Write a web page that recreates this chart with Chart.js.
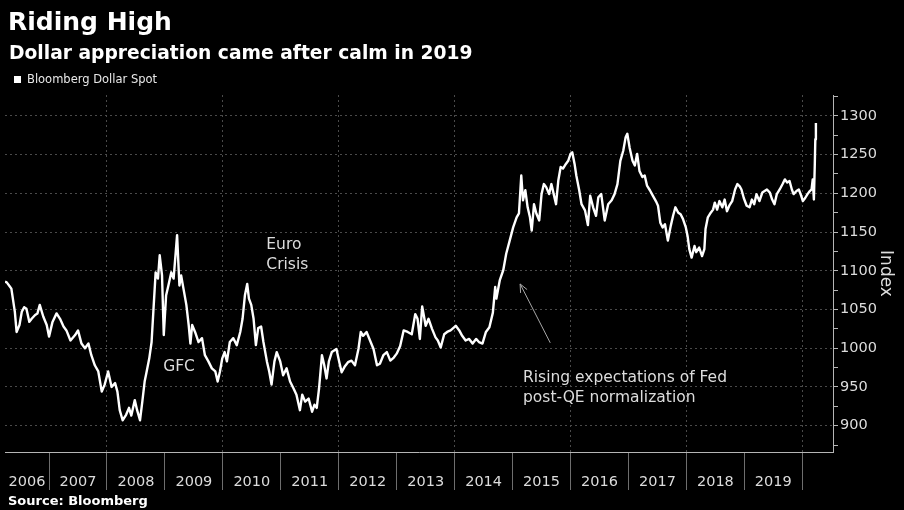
<!DOCTYPE html>
<html>
<head>
<meta charset="utf-8">
<script src="https://cdn.jsdelivr.net/npm/chart.js@4/dist/chart.umd.min.js"></script>
<style>
html,body{margin:0;padding:0;background:#000;}
#wrap{position:relative;width:904px;height:510px;background:#000;overflow:hidden;}
#c{position:absolute;left:0;top:0;}
.t{position:absolute;white-space:nowrap;color:#fff;font-family:"DejaVu Sans";}
#title{left:8px;top:9px;font-weight:bold;font-size:25px;line-height:25px;}
#sub{left:9px;top:43.5px;font-weight:bold;font-size:18.7px;line-height:18.7px;}
#legsq{position:absolute;left:14px;top:76px;width:7px;height:7px;background:#fff;}
#leg{left:27px;top:74.3px;font-size:11.5px;line-height:11.5px;color:#e8e8e8;}
#src{left:8px;top:494px;font-weight:bold;font-size:13px;line-height:13px;}
</style>
</head>
<body>
<div id="wrap">
<canvas id="c" width="904" height="510"></canvas>
<div class="t" id="title">Riding High</div>
<div class="t" id="sub">Dollar appreciation came after calm in 2019</div>
<div id="legsq"></div>
<div class="t" id="leg">Bloomberg Dollar Spot</div>
<div class="t" id="src">Source: Bloomberg</div>
</div>
<script>
// ---- data (decimal-year dates, index values) ----
const seriesName = 'Bloomberg Dollar Spot';
const yearLabels = ['2006','2007','2008','2009','2010','2011','2012','2013','2014','2015','2016','2017','2018','2019'];

const dates = [
 2006.24,2006.27,2006.32,2006.35,2006.41,2006.44,2006.49,2006.53,2006.57,2006.61,2006.66,2006.70,2006.76,2006.80,2006.84,2006.90,2006.96,
 2007.00,2007.06,2007.13,2007.19,2007.25,2007.30,2007.37,2007.45,2007.50,2007.56,2007.62,2007.68,2007.73,2007.79,2007.85,2007.91,2007.96,
 2008.02,2008.08,2008.14,2008.18,2008.22,2008.27,2008.33,2008.38,2008.42,2008.48,2008.52,2008.57,2008.61,2008.65,2008.68,2008.73,2008.77,2008.80,2008.84,2008.88,2008.91,2008.95,2008.98,
 2009.02,2009.06,2009.11,2009.15,2009.21,2009.25,2009.28,2009.32,2009.37,2009.41,2009.44,2009.47,2009.52,2009.58,2009.64,2009.69,2009.75,2009.81,2009.87,2009.91,2009.95,2009.99,
 2010.03,2010.07,2010.12,2010.18,2010.24,2010.30,2010.34,2010.38,2010.42,2010.45,2010.49,2010.53,2010.57,2010.61,2010.66,2010.70,2010.76,2010.80,2010.84,2010.89,2010.93,2010.99,
 2011.04,2011.10,2011.16,2011.22,2011.27,2011.33,2011.37,2011.42,2011.48,2011.54,2011.58,2011.62,2011.66,2011.71,2011.75,2011.79,2011.83,2011.88,2011.96,
 2012.01,2012.05,2012.10,2012.16,2012.22,2012.28,2012.34,2012.38,2012.42,2012.48,2012.54,2012.60,2012.66,2012.71,2012.77,2012.83,2012.89,2012.95,
 2013.00,2013.06,2013.12,2013.19,2013.26,2013.32,2013.36,2013.40,2013.44,2013.50,2013.55,2013.61,2013.67,2013.71,2013.76,2013.82,2013.87,2013.93,
 2014.02,2014.08,2014.13,2014.19,2014.25,2014.31,2014.37,2014.42,2014.48,2014.54,2014.60,2014.66,2014.70,2014.72,2014.78,2014.84,2014.89,2014.95,
 2015.01,2015.07,2015.11,2015.15,2015.18,2015.22,2015.26,2015.30,2015.33,2015.37,2015.41,2015.46,2015.50,2015.54,2015.58,2015.63,2015.67,2015.71,2015.75,2015.79,2015.83,2015.87,2015.92,2015.96,
 2016.00,2016.03,2016.07,2016.10,2016.15,2016.19,2016.25,2016.30,2016.34,2016.39,2016.44,2016.48,2016.53,2016.59,2016.65,2016.71,2016.76,2016.81,2016.86,2016.91,2016.95,2016.98,
 2017.02,2017.07,2017.11,2017.15,2017.19,2017.24,2017.28,2017.32,2017.37,2017.42,2017.48,2017.51,2017.55,2017.59,2017.63,2017.68,2017.73,2017.77,2017.81,2017.86,2017.90,2017.94,2017.99,
 2018.02,2018.05,2018.09,2018.14,2018.17,2018.22,2018.27,2018.31,2018.33,2018.37,2018.42,2018.46,2018.49,2018.53,2018.57,2018.62,2018.66,2018.70,2018.74,2018.79,2018.84,2018.88,2018.92,2018.95,2018.99,
 2019.04,2019.09,2019.13,2019.17,2019.21,2019.26,2019.31,2019.35,2019.39,2019.44,2019.48,2019.52,2019.56,2019.61,2019.66,2019.70,2019.74,2019.78,2019.82,2019.85,2019.90,2019.94,2019.98,
 2020.01,2020.05,2020.09,2020.13,2020.16,2020.18,2020.20,2020.215,2020.225,2020.235
];

const index = [
 1086,1085,1080,1077,1047,1021,1030,1047,1053,1051,1034,1038,1043,1045,1056,1041,1030,
 1015,1034,1045,1038,1028,1023,1010,1017,1023,1006,1000,1006,991,978,970,944,953,
 970,950,955,944,920,907,914,923,913,933,920,907,931,957,968,987,1008,1047,1098,1090,1120,1094,1017,
 1068,1081,1098,1090,1146,1081,1094,1077,1056,1030,1006,1030,1021,1008,1013,991,983,974,970,957,970,987,
 995,983,1008,1013,1004,1021,1038,1068,1083,1064,1056,1038,1004,1026,1028,1008,983,970,953,983,995,983,
 965,974,957,948,940,920,940,931,935,918,927,923,948,991,978,961,983,995,999,
 982,969,976,982,984,978,999,1021,1016,1021,1010,999,978,980,991,995,984,988,
 993,1003,1023,1021,1018,1044,1038,1012,1054,1029,1038,1025,1014,1010,1001,1018,1021,1023,
 1029,1023,1016,1010,1012,1006,1012,1008,1006,1021,1027,1046,1079,1064,1088,1101,1122,1139,
 1156,1169,1174,1223,1191,1204,1182,1169,1152,1186,1174,1165,1199,1212,1208,1199,1212,1199,1186,1217,1234,1232,1238,1242,
 1251,1253,1238,1223,1204,1186,1178,1159,1197,1182,1171,1195,1199,1165,1186,1191,1199,1212,1242,1255,1272,1277,
 1259,1242,1236,1251,1229,1221,1223,1210,1204,1197,1189,1184,1162,1156,1160,1139,1158,1171,1182,1175,1173,1167,1156,
 1145,1128,1117,1132,1124,1130,1119,1128,1154,1169,1175,1179,1188,1179,1190,1182,1192,1177,1184,1190,1205,1212,1209,1205,1194,
 1184,1182,1192,1186,1199,1190,1201,1203,1205,1201,1192,1186,1199,1205,1212,1218,1214,1216,1205,1199,1203,1205,1197,
 1190,1194,1199,1203,1205,1218,1192,1235,1270,1291
];

// annotation text anchored in data units (left edge, first-line centre)
const notes = [
  {lines:['Euro','Crisis'], x:2010.75, y:1133},
  {lines:['GFC'], x:2008.97, y:976},
  {lines:['Rising expectations of Fed','post-QE normalization'], x:2015.18, y:962}
];
const arrow = {fromX:2015.65, fromY:1007, toX:2015.13, toY:1083};

const X_MIN = 2006.24, X_MAX = 2020.53, Y_MIN = 866, Y_MAX = 1327;

// ---- chart ----
const FONT = 'DejaVu Sans';
const GRID = '#4a4a4a';
const AXIS = '#b5b5b5';
const TXT = '#dcdcdc';
const CLEAR = 'rgba(0,0,0,0)';

const n = Math.min(dates.length, index.length);
const points = [];
for (let i = 0; i < n; i++) points.push({x: dates[i], y: index[i]});

const notesPlugin = {
  id: 'notes',
  afterDatasetsDraw(chart) {
    const {ctx} = chart;
    const xs = chart.scales.x, ys = chart.scales.y;
    ctx.save();
    ctx.fillStyle = TXT;
    ctx.font = '15.5px "' + FONT + '"';
    ctx.textBaseline = 'middle';
    ctx.textAlign = 'left';
    notes.forEach(nt => {
      const px = xs.getPixelForValue(nt.x), py = ys.getPixelForValue(nt.y);
      nt.lines.forEach((t, i) => ctx.fillText(t, px, py + i * 20));
    });
    const x1 = xs.getPixelForValue(arrow.fromX), y1 = ys.getPixelForValue(arrow.fromY);
    const x2 = xs.getPixelForValue(arrow.toX), y2 = ys.getPixelForValue(arrow.toY);
    const ang = Math.atan2(y2 - y1, x2 - x1), h = 9;
    ctx.strokeStyle = '#a8a8a8';
    ctx.lineWidth = 1;
    ctx.beginPath();
    ctx.moveTo(x1, y1); ctx.lineTo(x2, y2);
    ctx.moveTo(x2, y2); ctx.lineTo(x2 - h * Math.cos(ang - 0.42), y2 - h * Math.sin(ang - 0.42));
    ctx.moveTo(x2, y2); ctx.lineTo(x2 - h * Math.cos(ang + 0.42), y2 - h * Math.sin(ang + 0.42));
    ctx.stroke();
    ctx.restore();
  }
};

new Chart(document.getElementById('c'), {
  type: 'line',
  data: {
    datasets: [{
      label: seriesName,
      data: points,
      borderColor: '#ffffff',
      borderWidth: 2.4,
      pointRadius: 0,
      tension: 0,
      borderJoinStyle: 'round'
    }]
  },
  options: {
    responsive: false,
    animation: false,
    devicePixelRatio: 1,
    layout: {padding: {top: 95, left: 5, right: 0, bottom: 0}},
    plugins: {legend: {display: false}, tooltip: {enabled: false}},
    scales: {
      x: {
        type: 'linear',
        min: X_MIN, max: X_MAX,
        afterBuildTicks(scale) {
          const t = [];
          yearLabels.forEach(lab => {
            const yr = Number(lab);
            const a = Math.max(yr, X_MIN);
            t.push({value: (a + yr + 1) / 2, lab: lab});
            t.push({value: yr + 1, sep: true});
          });
          scale.ticks = t;
        },
        afterFit(scale) { scale.height = 58; },
        ticks: {
          autoSkip: false, maxRotation: 0, minRotation: 0,
          color: TXT, font: {family: FONT, size: 14.5}, padding: -16,
          callback: (v, i, ticks) => (ticks[i] && ticks[i].lab) ? ticks[i].lab : ''
        },
        grid: {
          color: c => (c.tick && c.tick.sep && Math.round(c.tick.value) % 2 === 0) ? GRID : CLEAR,
          tickColor: c => (c.tick && c.tick.sep) ? '#6e6e6e' : CLEAR,
          tickLength: 38,
          lineWidth: 1
        },
        border: {display: true, color: AXIS, dash: [2, 3]}
      },
      y: {
        type: 'linear',
        position: 'right',
        min: Y_MIN, max: Y_MAX,
        afterFit(scale) { scale.width = 71; },
        ticks: {
          stepSize: 25, includeBounds: false, autoSkip: false,
          color: TXT, font: {family: FONT, size: 14.5}, padding: 2,
          callback: v => (v % 50 === 0) ? String(v) : ''
        },
        grid: {
          color: c => (c.tick && c.tick.value % 50 === 0) ? GRID : CLEAR,
          tickColor: AXIS,
          tickLength: 5,
          lineWidth: 1
        },
        border: {display: true, color: AXIS, dash: [2, 3]},
        title: {display: true, text: 'Index', color: TXT, font: {family: FONT, size: 17}, padding: {top: 8, bottom: 0}}
      }
    }
  },
  plugins: [notesPlugin]
});
</script>
</body>
</html>
